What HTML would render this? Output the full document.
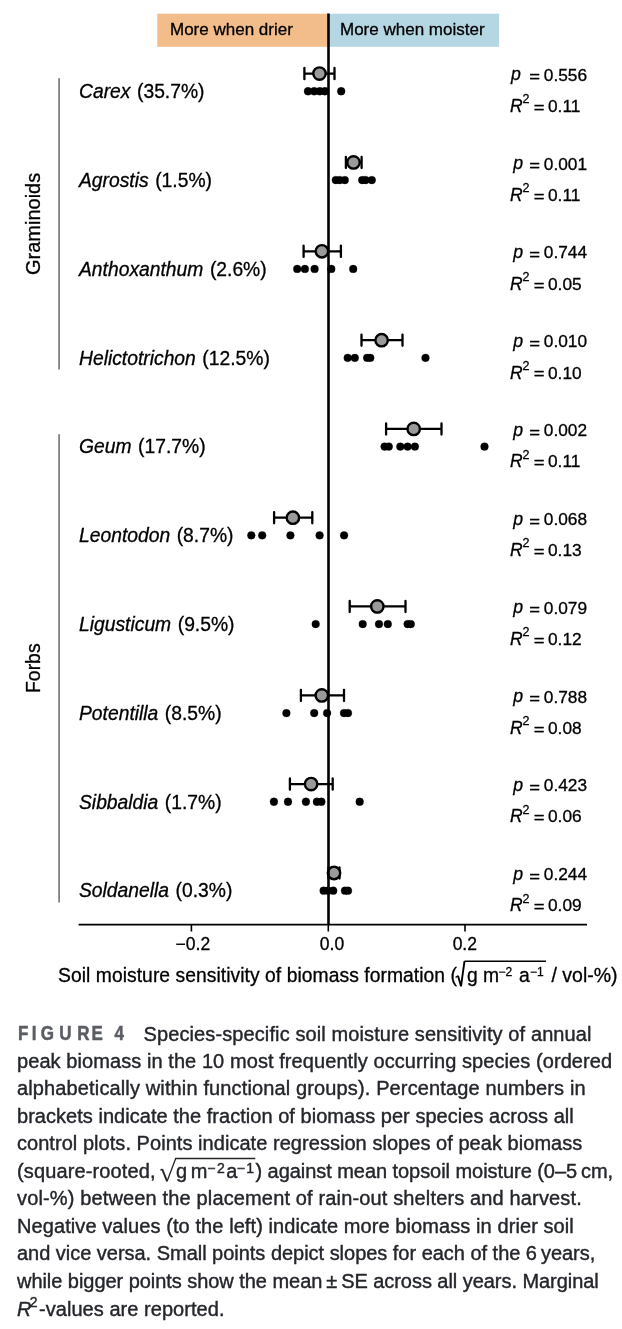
<!DOCTYPE html>
<html><head><meta charset="utf-8"><style>
html,body{margin:0;padding:0;background:#fff;}
svg{display:block;will-change:transform;}
text{font-family:"Liberation Sans", sans-serif;}
</style></head><body>
<svg width="622" height="1329" viewBox="0 0 622 1329">
<rect width="622" height="1329" fill="#fff"/>
<g stroke="#000" stroke-width="0.3">
<rect x="157.3" y="13.7" width="171" height="33.1" fill="#F3BC8B" stroke="none"/>
<rect x="328.3" y="13.7" width="170.8" height="33.1" fill="#B4D7E3" stroke="none"/>
<text x="170" y="35.2" font-size="17">More when drier</text>
<text x="340" y="35.2" font-size="17">More when moister</text>
<line x1="59.1" y1="78.2" x2="59.1" y2="369.6" stroke="#808080" stroke-width="1.8"/>
<line x1="59.1" y1="434.3" x2="59.1" y2="902.4" stroke="#808080" stroke-width="1.8"/>
<text transform="translate(39.7,223.9) rotate(-90)" text-anchor="middle" font-size="20">Graminoids</text>
<text transform="translate(39.8,668.2) rotate(-90)" text-anchor="middle" font-size="19.4">Forbs</text>
<text x="79" y="98.0" font-size="19.3"><tspan font-style="italic">Carex</tspan><tspan dx="1.2"> (35.7%)</tspan></text>
<circle cx="308" cy="91.25" r="3.9" fill="#000"/>
<circle cx="314.2" cy="91.25" r="3.9" fill="#000"/>
<circle cx="319.8" cy="91.25" r="3.9" fill="#000"/>
<circle cx="324.9" cy="91.25" r="3.9" fill="#000"/>
<circle cx="341.2" cy="91.25" r="3.9" fill="#000"/>
<path d="M304.4 73.6H334.5M304.4 68.0V79.19999999999999M334.5 68.0V79.19999999999999" stroke="#000" stroke-width="2.3" stroke-linecap="round" fill="none"/>
<circle cx="319.5" cy="73.6" r="6.2" fill="#9A9A9A" stroke="#000" stroke-width="2.4"/>
<text x="511" y="80.4" font-size="17.7"><tspan font-style="italic">p</tspan></text>
<text x="529.2" y="82.4" font-size="17" textLength="10.8" lengthAdjust="spacingAndGlyphs">=</text>
<text x="543.8" y="80.7" font-size="17.3">0.556</text>
<text x="510" y="111.9" font-size="17.5"><tspan font-style="italic">R</tspan></text>
<text x="522.6" y="103.2" font-size="12.5">2</text>
<text x="533.8" y="112.8" font-size="17" textLength="10.8" lengthAdjust="spacingAndGlyphs">=</text>
<text x="548" y="111.9" font-size="17.3">0.11</text>
<text x="79" y="186.8" font-size="19.3"><tspan font-style="italic">Agrostis</tspan><tspan dx="1.2"> (1.5%)</tspan></text>
<circle cx="335.8" cy="180.05" r="3.9" fill="#000"/>
<circle cx="339.7" cy="180.05" r="3.9" fill="#000"/>
<circle cx="344.8" cy="180.05" r="3.9" fill="#000"/>
<circle cx="362.2" cy="180.05" r="3.9" fill="#000"/>
<circle cx="365.6" cy="180.05" r="3.9" fill="#000"/>
<circle cx="371.8" cy="180.05" r="3.9" fill="#000"/>
<path d="M345.9 162.4H361.6M345.9 156.8V168.0M361.6 156.8V168.0" stroke="#000" stroke-width="2.3" stroke-linecap="round" fill="none"/>
<circle cx="353.5" cy="162.4" r="6.2" fill="#9A9A9A" stroke="#000" stroke-width="2.4"/>
<text x="513.3" y="169.2" font-size="17.7"><tspan font-style="italic">p</tspan></text>
<text x="529.2" y="171.2" font-size="17" textLength="10.8" lengthAdjust="spacingAndGlyphs">=</text>
<text x="543.8" y="169.5" font-size="17.3">0.001</text>
<text x="510" y="200.7" font-size="17.5"><tspan font-style="italic">R</tspan></text>
<text x="522.6" y="192.0" font-size="12.5">2</text>
<text x="533.8" y="201.6" font-size="17" textLength="10.8" lengthAdjust="spacingAndGlyphs">=</text>
<text x="548" y="200.7" font-size="17.3">0.11</text>
<text x="79" y="275.7" font-size="19.3"><tspan font-style="italic">Anthoxanthum</tspan><tspan dx="1.2"> (2.6%)</tspan></text>
<circle cx="297.2" cy="268.95" r="3.9" fill="#000"/>
<circle cx="304.9" cy="268.95" r="3.9" fill="#000"/>
<circle cx="314.6" cy="268.95" r="3.9" fill="#000"/>
<circle cx="331.3" cy="268.95" r="3.9" fill="#000"/>
<circle cx="353.2" cy="268.95" r="3.9" fill="#000"/>
<path d="M303.6 251.3H340.9M303.6 245.70000000000002V256.90000000000003M340.9 245.70000000000002V256.90000000000003" stroke="#000" stroke-width="2.3" stroke-linecap="round" fill="none"/>
<circle cx="321.9" cy="251.3" r="6.2" fill="#9A9A9A" stroke="#000" stroke-width="2.4"/>
<text x="513.3" y="258.1" font-size="17.7"><tspan font-style="italic">p</tspan></text>
<text x="529.2" y="260.1" font-size="17" textLength="10.8" lengthAdjust="spacingAndGlyphs">=</text>
<text x="543.8" y="258.4" font-size="17.3">0.744</text>
<text x="510" y="289.6" font-size="17.5"><tspan font-style="italic">R</tspan></text>
<text x="522.6" y="280.9" font-size="12.5">2</text>
<text x="533.8" y="290.5" font-size="17" textLength="10.8" lengthAdjust="spacingAndGlyphs">=</text>
<text x="548" y="289.6" font-size="17.3">0.05</text>
<text x="79" y="364.6" font-size="19.3"><tspan font-style="italic">Helictotrichon</tspan><tspan dx="1.2"> (12.5%)</tspan></text>
<circle cx="347.7" cy="357.85" r="3.9" fill="#000"/>
<circle cx="354.8" cy="357.85" r="3.9" fill="#000"/>
<circle cx="367.1" cy="357.85" r="3.9" fill="#000"/>
<circle cx="370.3" cy="357.85" r="3.9" fill="#000"/>
<circle cx="425.5" cy="357.85" r="3.9" fill="#000"/>
<path d="M361.5 340.2H402.5M361.5 334.59999999999997V345.8M402.5 334.59999999999997V345.8" stroke="#000" stroke-width="2.3" stroke-linecap="round" fill="none"/>
<circle cx="381.6" cy="340.2" r="6.2" fill="#9A9A9A" stroke="#000" stroke-width="2.4"/>
<text x="513.3" y="347.0" font-size="17.7"><tspan font-style="italic">p</tspan></text>
<text x="529.2" y="349.0" font-size="17" textLength="10.8" lengthAdjust="spacingAndGlyphs">=</text>
<text x="543.8" y="347.3" font-size="17.3">0.010</text>
<text x="510" y="378.5" font-size="17.5"><tspan font-style="italic">R</tspan></text>
<text x="522.6" y="369.8" font-size="12.5">2</text>
<text x="533.8" y="379.4" font-size="17" textLength="10.8" lengthAdjust="spacingAndGlyphs">=</text>
<text x="548" y="378.5" font-size="17.3">0.10</text>
<text x="79" y="453.3" font-size="19.3"><tspan font-style="italic">Geum</tspan><tspan dx="1.2"> (17.7%)</tspan></text>
<circle cx="384.6" cy="446.55" r="3.9" fill="#000"/>
<circle cx="388.8" cy="446.55" r="3.9" fill="#000"/>
<circle cx="400.3" cy="446.55" r="3.9" fill="#000"/>
<circle cx="407.6" cy="446.55" r="3.9" fill="#000"/>
<circle cx="414.9" cy="446.55" r="3.9" fill="#000"/>
<circle cx="484.5" cy="446.55" r="3.9" fill="#000"/>
<path d="M386.1 428.9H441.5M386.1 423.29999999999995V434.5M441.5 423.29999999999995V434.5" stroke="#000" stroke-width="2.3" stroke-linecap="round" fill="none"/>
<circle cx="413.7" cy="428.9" r="6.2" fill="#9A9A9A" stroke="#000" stroke-width="2.4"/>
<text x="513.3" y="435.7" font-size="17.7"><tspan font-style="italic">p</tspan></text>
<text x="529.2" y="437.7" font-size="17" textLength="10.8" lengthAdjust="spacingAndGlyphs">=</text>
<text x="543.8" y="436.0" font-size="17.3">0.002</text>
<text x="510" y="467.2" font-size="17.5"><tspan font-style="italic">R</tspan></text>
<text x="522.6" y="458.5" font-size="12.5">2</text>
<text x="533.8" y="468.1" font-size="17" textLength="10.8" lengthAdjust="spacingAndGlyphs">=</text>
<text x="548" y="467.2" font-size="17.3">0.11</text>
<text x="79" y="542.1" font-size="19.3"><tspan font-style="italic">Leontodon</tspan><tspan dx="1.2"> (8.7%)</tspan></text>
<circle cx="251.3" cy="535.35" r="3.9" fill="#000"/>
<circle cx="262.2" cy="535.35" r="3.9" fill="#000"/>
<circle cx="290.4" cy="535.35" r="3.9" fill="#000"/>
<circle cx="319.6" cy="535.35" r="3.9" fill="#000"/>
<circle cx="344.1" cy="535.35" r="3.9" fill="#000"/>
<path d="M274.1 517.7H312.3M274.1 512.1V523.3000000000001M312.3 512.1V523.3000000000001" stroke="#000" stroke-width="2.3" stroke-linecap="round" fill="none"/>
<circle cx="292.9" cy="517.7" r="6.2" fill="#9A9A9A" stroke="#000" stroke-width="2.4"/>
<text x="513.3" y="524.5" font-size="17.7"><tspan font-style="italic">p</tspan></text>
<text x="529.2" y="526.5" font-size="17" textLength="10.8" lengthAdjust="spacingAndGlyphs">=</text>
<text x="543.8" y="524.8" font-size="17.3">0.068</text>
<text x="510" y="556.0" font-size="17.5"><tspan font-style="italic">R</tspan></text>
<text x="522.6" y="547.3" font-size="12.5">2</text>
<text x="533.8" y="556.9" font-size="17" textLength="10.8" lengthAdjust="spacingAndGlyphs">=</text>
<text x="548" y="556.0" font-size="17.3">0.13</text>
<text x="79" y="630.8" font-size="19.3"><tspan font-style="italic">Ligusticum</tspan><tspan dx="1.2"> (9.5%)</tspan></text>
<circle cx="315.7" cy="624.05" r="3.9" fill="#000"/>
<circle cx="362.7" cy="624.05" r="3.9" fill="#000"/>
<circle cx="379" cy="624.05" r="3.9" fill="#000"/>
<circle cx="387.8" cy="624.05" r="3.9" fill="#000"/>
<circle cx="407.6" cy="624.05" r="3.9" fill="#000"/>
<circle cx="410.8" cy="624.05" r="3.9" fill="#000"/>
<path d="M349.7 606.4H405.5M349.7 600.8V612.0M405.5 600.8V612.0" stroke="#000" stroke-width="2.3" stroke-linecap="round" fill="none"/>
<circle cx="377.3" cy="606.4" r="6.2" fill="#9A9A9A" stroke="#000" stroke-width="2.4"/>
<text x="513.3" y="613.2" font-size="17.7"><tspan font-style="italic">p</tspan></text>
<text x="529.2" y="615.2" font-size="17" textLength="10.8" lengthAdjust="spacingAndGlyphs">=</text>
<text x="543.8" y="613.5" font-size="17.3">0.079</text>
<text x="510" y="644.7" font-size="17.5"><tspan font-style="italic">R</tspan></text>
<text x="522.6" y="636.0" font-size="12.5">2</text>
<text x="533.8" y="645.6" font-size="17" textLength="10.8" lengthAdjust="spacingAndGlyphs">=</text>
<text x="548" y="644.7" font-size="17.3">0.12</text>
<text x="79" y="719.8" font-size="19.3"><tspan font-style="italic">Potentilla</tspan><tspan dx="1.2"> (8.5%)</tspan></text>
<circle cx="286.4" cy="713.05" r="3.9" fill="#000"/>
<circle cx="314.2" cy="713.05" r="3.9" fill="#000"/>
<circle cx="327.1" cy="713.05" r="3.9" fill="#000"/>
<circle cx="344" cy="713.05" r="3.9" fill="#000"/>
<circle cx="348" cy="713.05" r="3.9" fill="#000"/>
<path d="M300.9 695.4H344.0M300.9 689.8V701.0M344.0 689.8V701.0" stroke="#000" stroke-width="2.3" stroke-linecap="round" fill="none"/>
<circle cx="321.8" cy="695.4" r="6.2" fill="#9A9A9A" stroke="#000" stroke-width="2.4"/>
<text x="513.3" y="702.2" font-size="17.7"><tspan font-style="italic">p</tspan></text>
<text x="529.2" y="704.2" font-size="17" textLength="10.8" lengthAdjust="spacingAndGlyphs">=</text>
<text x="543.8" y="702.5" font-size="17.3">0.788</text>
<text x="510" y="733.7" font-size="17.5"><tspan font-style="italic">R</tspan></text>
<text x="522.6" y="725.0" font-size="12.5">2</text>
<text x="533.8" y="734.6" font-size="17" textLength="10.8" lengthAdjust="spacingAndGlyphs">=</text>
<text x="548" y="733.7" font-size="17.3">0.08</text>
<text x="79" y="808.5" font-size="19.3"><tspan font-style="italic">Sibbaldia</tspan><tspan dx="1.2"> (1.7%)</tspan></text>
<circle cx="273.9" cy="801.75" r="3.9" fill="#000"/>
<circle cx="288" cy="801.75" r="3.9" fill="#000"/>
<circle cx="305.9" cy="801.75" r="3.9" fill="#000"/>
<circle cx="316.9" cy="801.75" r="3.9" fill="#000"/>
<circle cx="321.4" cy="801.75" r="3.9" fill="#000"/>
<circle cx="359.7" cy="801.75" r="3.9" fill="#000"/>
<path d="M289.9 784.1H332.7M289.9 778.5V789.7M332.7 778.5V789.7" stroke="#000" stroke-width="2.3" stroke-linecap="round" fill="none"/>
<circle cx="311.1" cy="784.1" r="6.2" fill="#9A9A9A" stroke="#000" stroke-width="2.4"/>
<text x="513.3" y="790.9" font-size="17.7"><tspan font-style="italic">p</tspan></text>
<text x="529.2" y="792.9" font-size="17" textLength="10.8" lengthAdjust="spacingAndGlyphs">=</text>
<text x="543.8" y="791.2" font-size="17.3">0.423</text>
<text x="510" y="822.4" font-size="17.5"><tspan font-style="italic">R</tspan></text>
<text x="522.6" y="813.7" font-size="12.5">2</text>
<text x="533.8" y="823.3" font-size="17" textLength="10.8" lengthAdjust="spacingAndGlyphs">=</text>
<text x="548" y="822.4" font-size="17.3">0.06</text>
<text x="79" y="897.4" font-size="19.3"><tspan font-style="italic">Soldanella</tspan><tspan dx="1.2"> (0.3%)</tspan></text>
<circle cx="323.6" cy="890.65" r="3.9" fill="#000"/>
<circle cx="328.1" cy="890.65" r="3.9" fill="#000"/>
<circle cx="333.2" cy="890.65" r="3.9" fill="#000"/>
<circle cx="345" cy="890.65" r="3.9" fill="#000"/>
<circle cx="348" cy="890.65" r="3.9" fill="#000"/>
<path d="M328.5 873.0H339.5M328.5 867.4V878.6M339.5 867.4V878.6" stroke="#000" stroke-width="2.3" stroke-linecap="round" fill="none"/>
<circle cx="334.0" cy="873.0" r="6.2" fill="#9A9A9A" stroke="#000" stroke-width="2.4"/>
<text x="513.3" y="879.8" font-size="17.7"><tspan font-style="italic">p</tspan></text>
<text x="529.2" y="881.8" font-size="17" textLength="10.8" lengthAdjust="spacingAndGlyphs">=</text>
<text x="543.8" y="880.1" font-size="17.3">0.244</text>
<text x="510" y="911.3" font-size="17.5"><tspan font-style="italic">R</tspan></text>
<text x="522.6" y="902.6" font-size="12.5">2</text>
<text x="533.8" y="912.2" font-size="17" textLength="10.8" lengthAdjust="spacingAndGlyphs">=</text>
<text x="548" y="911.3" font-size="17.3">0.09</text>
<line x1="328.5" y1="13.4" x2="328.5" y2="925" stroke="#000" stroke-width="2.6"/>
<line x1="78.6" y1="924.6" x2="587" y2="924.6" stroke="#000" stroke-width="1.6"/>
<line x1="191.4" y1="924.6" x2="191.4" y2="931.5" stroke="#000" stroke-width="1.6"/>
<text x="192.9" y="949.6" font-size="17.5" text-anchor="middle">−0.2</text>
<line x1="328.3" y1="924.6" x2="328.3" y2="931.5" stroke="#000" stroke-width="1.6"/>
<text x="332.0" y="949.6" font-size="17.5" text-anchor="middle">0.0</text>
<line x1="465" y1="924.6" x2="465" y2="931.5" stroke="#000" stroke-width="1.6"/>
<text x="464.8" y="949.6" font-size="17.5" text-anchor="middle">0.2</text>
<text x="58" y="981.5" font-size="19.3" textLength="398.9" lengthAdjust="spacing">Soil moisture sensitivity of biomass formation (</text>
<path d="M455.6 977.5 L458 975.8 M464.5 961.2 H546" stroke="#000" stroke-width="1.4" fill="none"/>
<path d="M458 975.8 L461 986.3 L464.5 961.2" stroke="#000" stroke-width="1.9" fill="none" stroke-linejoin="miter"/>
<text x="467" y="981.5" font-size="19.3">g m</text>
<text x="498.5" y="975.6" font-size="12">−2</text>
<text x="519" y="981.5" font-size="19.3">a</text>
<text x="530" y="975.6" font-size="12">−1</text>
<text x="551.5" y="981.5" font-size="19.5">/ vol-%)</text>
</g>
<text transform="scale(0.85,1)" x="27.29 40.29 55.65 76.94 98.00 114.47 140.35" y="1040.5" font-size="20" font-weight="bold" fill="#5A5D62" stroke="#5A5D62" stroke-width="0.5" text-anchor="middle">FIGURE4</text>
<g stroke="#24262B" stroke-width="0.4">
<text x="143.5" y="1040.5" font-size="20" fill="#24262B" textLength="448.0" lengthAdjust="spacing">Species-specific soil moisture sensitivity of annual</text>
<text x="17" y="1068.0" font-size="20" fill="#24262B" textLength="595.1" lengthAdjust="spacing">peak biomass in the 10 most frequently occurring species (ordered</text>
<text x="17" y="1095.4" font-size="20" fill="#24262B" textLength="568.6" lengthAdjust="spacing">alphabetically within functional groups). Percentage numbers in</text>
<text x="17" y="1122.9" font-size="20" fill="#24262B" textLength="556.8" lengthAdjust="spacing">brackets indicate the fraction of biomass per species across all</text>
<text x="17" y="1150.4" font-size="20" fill="#24262B" textLength="565.3" lengthAdjust="spacing">control plots. Points indicate regression slopes of peak biomass</text>
<text x="17" y="1205.3" font-size="20" fill="#24262B" textLength="564.7" lengthAdjust="spacing">vol-%) between the placement of rain-out shelters and harvest.</text>
<text x="17" y="1232.8" font-size="20" fill="#24262B" textLength="556.8" lengthAdjust="spacing">Negative values (to the left) indicate more biomass in drier soil</text>
<text x="17" y="1260.3" font-size="20" fill="#24262B" textLength="578.3" lengthAdjust="spacing">and vice versa. Small points depict slopes for each of the 6 years,</text>
<text x="17" y="1287.7" font-size="20" fill="#24262B" textLength="581.8" lengthAdjust="spacing">while bigger points show the mean ± SE across all years. Marginal</text>
<text x="17" y="1177.8" font-size="20" fill="#24262B" textLength="138.5" lengthAdjust="spacing">(square-rooted,</text>
<path d="M160.3 1170.2 L162.2 1169.1 M167.1 1181.3 L175.7 1158.5 H255.3" stroke="#24262B" stroke-width="1.3" fill="none"/>
<path d="M162.2 1169.1 L167.1 1181.3" stroke="#24262B" stroke-width="1.9" fill="none"/>
<text x="176.1" y="1177.8" font-size="20" fill="#24262B">g</text>
<text x="190.8" y="1177.8" font-size="20" fill="#24262B">m</text>
<text x="207.2" y="1172.6" font-size="14" fill="#55585D">−</text>
<text x="217" y="1172.6" font-size="14" fill="#24262B">2</text>
<text x="226.2" y="1177.8" font-size="20" fill="#24262B">a</text>
<text x="236.7" y="1172.6" font-size="14" fill="#55585D">−</text>
<text x="246.3" y="1172.6" font-size="14" fill="#24262B">1</text>
<text x="255.5" y="1177.8" font-size="20" fill="#24262B" textLength="357.6" lengthAdjust="spacing">) against mean topsoil moisture (0–5 cm,</text>
<text x="17" y="1315.7" font-size="20" fill="#24262B" font-style="italic">R</text>
<text x="29.8" y="1306.7" font-size="14" fill="#24262B">2</text>
<text x="39" y="1315.7" font-size="20" fill="#24262B" textLength="185.5" lengthAdjust="spacing">-values are reported.</text>
</g>
</svg>
</body></html>
